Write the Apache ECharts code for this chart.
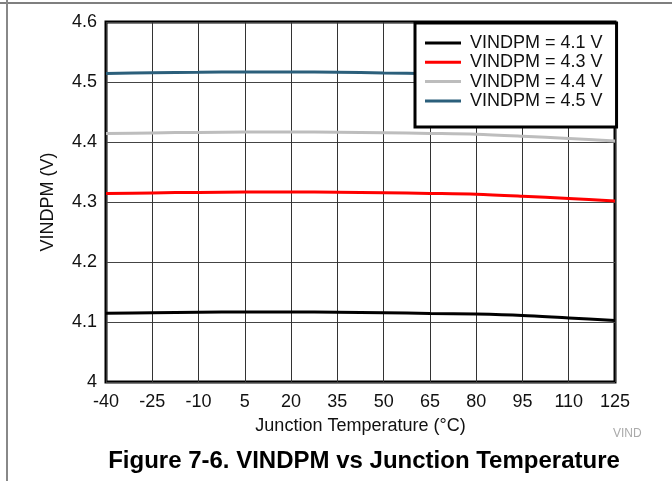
<!DOCTYPE html>
<html>
<head>
<meta charset="utf-8">
<script src="https://cdn.jsdelivr.net/npm/echarts@6/dist/echarts.min.js"></script>
<style>
html,body{margin:0;padding:0;background:#fff;}
#chart{width:672px;height:481px;}
</style>
</head>
<body>
<div id="chart"></div>
<script>
// Junction temperature (°C)
const temps = ['-40','-25','-10','5','20','35','50','65','80','95','110','125'];
// VINDPM (V) per setting
const v41 = [4.1145,4.1155,4.1162,4.1167,4.1167,4.1162,4.1153,4.1143,4.1133,4.1110,4.1067,4.1027];
const v43 = [4.3140,4.3152,4.3160,4.3167,4.3167,4.3162,4.3153,4.3143,4.3130,4.3097,4.3057,4.3017];
const v44 = [4.4140,4.4152,4.4160,4.4167,4.4167,4.4162,4.4153,4.4143,4.4130,4.4097,4.4057,4.4017];
const v45 = [4.5143,4.5155,4.5162,4.5168,4.5168,4.5162,4.5150,4.5138,4.5125,4.5095,4.5057,4.5017];
const seriesNames = ['VINDPM = 4.1 V','VINDPM = 4.3 V','VINDPM = 4.4 V','VINDPM = 4.5 V'];
const seriesColors = ['#000000','#ff0000','#bdbdbd','#2b5f7b'];
const yTicks = [4, 4.6, 0.1];

const chart = echarts.init(document.getElementById('chart'));
const font = 'Liberation Sans, Arial, sans-serif';
const datas = [v41, v43, v44, v45];
chart.setOption({
  animation: false,
  backgroundColor: '#fff',
  grid: {left: 106, right: 57, top: 22, bottom: 99, show: true, borderColor: '#000', borderWidth: 3, backgroundColor: 'transparent'},
  xAxis: {
    type: 'category', data: temps, boundaryGap: false,
    axisLine: {show: false}, axisTick: {show: false},
    axisLabel: {color: '#111', fontSize: 18, fontFamily: font, margin: 11},
    splitLine: {show: true, lineStyle: {color: '#333', width: 1}},
    name: 'Junction Temperature (°C)', nameLocation: 'middle', nameGap: 35,
    nameTextStyle: {color: '#111', fontSize: 18, fontFamily: font}
  },
  yAxis: {
    type: 'value', min: yTicks[0], max: yTicks[1], interval: yTicks[2],
    axisLine: {show: false}, axisTick: {show: false},
    axisLabel: {color: '#111', fontSize: 18, fontFamily: font, margin: 9},
    splitLine: {show: true, lineStyle: {color: '#444', width: 1}},
    name: 'VINDPM (V)', nameLocation: 'middle', nameGap: 49,
    nameTextStyle: {color: '#111', fontSize: 18, fontFamily: font}
  },
  legend: {
    orient: 'vertical', left: 415, top: 23,
    padding: [11, 14, 17, 10], itemGap: 1.3,
    backgroundColor: '#fff', borderColor: '#000', borderWidth: 3,
    icon: 'rect', itemWidth: 36, itemHeight: 3,
    textStyle: {color: '#111', fontSize: 18, fontFamily: font, lineHeight: 18, padding: [0,0,0,4]},
    data: seriesNames
  },
  series: datas.map((d, i) => ({
    name: seriesNames[i], type: 'line', data: d, smooth: 0.3,
    symbol: 'none', color: seriesColors[i],
    lineStyle: {color: seriesColors[i], width: 3}
  })),
  graphic: [
    {type: 'line', shape: {x1: 0, y1: 3, x2: 672, y2: 3}, style: {stroke: '#555', lineWidth: 1.5}},
    {type: 'line', shape: {x1: 7, y1: 0, x2: 7, y2: 481}, style: {stroke: '#888', lineWidth: 2}},
    {type: 'text', left: 613, top: 428, style: {text: 'VIND', fill: '#aaa', fontSize: 12, fontFamily: font}},
    {type: 'text', x: 364, y: 461, style: {text: 'Figure 7-6. VINDPM vs Junction Temperature', fill: '#000', fontSize: 24, fontWeight: 'bold', fontFamily: font, textAlign: 'center', textVerticalAlign: 'middle'}}
  ]
});
</script>
</body>
</html>
